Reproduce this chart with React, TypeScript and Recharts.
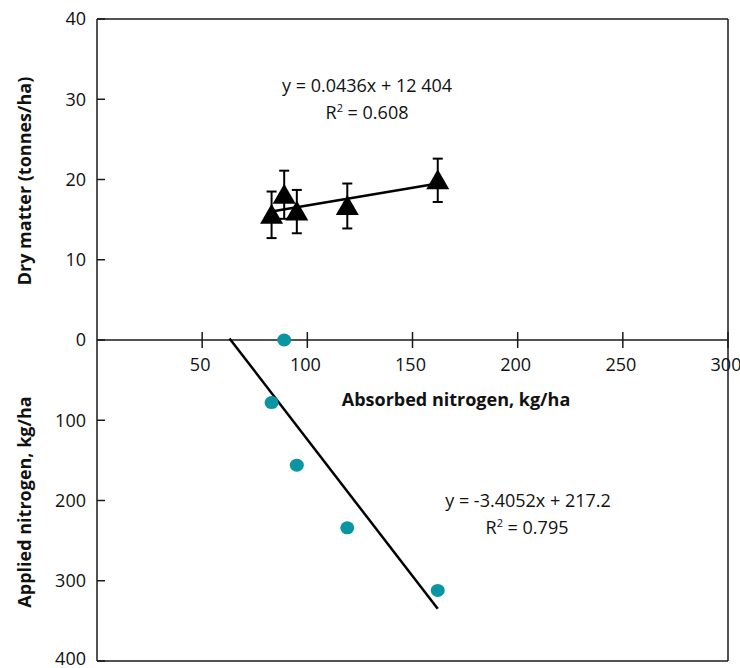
import React from "react";
import { ErrorBar, ReferenceLine, Scatter, ScatterChart, XAxis, YAxis } from "recharts";

// absorbed nitrogen (kg/ha) vs dry matter (t/ha), with error bars
const absorbed = [83, 89, 95, 119, 162];
const dryMatter = [15.6, 18.1, 16.0, 16.7, 19.9];
const dryMatterErr = [2.9, 3.0, 2.7, 2.8, 2.7];

// absorbed nitrogen vs applied nitrogen (kg/ha, drawn downwards)
const appliedAbsorbed = [89, 83, 95, 119, 162];
const applied = [0, 78, 156, 234, 312];

// trend line end points
const dryFitX = [83, 162];
const dryFitY = [16.0, 19.5];
const appliedFitX = [63, 162];
const appliedFitY = [-2, 335];

const xTicks = [50, 100, 150, 200, 250, 300];
const leftTicks = [-40, -30, -20, -10, 0, 10, 20, 30, 40];
const rightTicks = [-30, -20, -10, 10, 20, 30];

const W = 740;
const H = 668;
const TOP = 19;
const LEFT = 97;
const RIGHT = 12;
const BOTTOM_AXIS = 7;
const ZERO_Y = TOP + (H - TOP - BOTTOM_AXIS) / 2;
const FONT = "'Open Sans', 'Noto Sans', sans-serif";
const INK = "#1a1a1a";
const TEAL = "#0a95a3";

const dryData = absorbed.map((x, i) => ({ x, y: dryMatter[i], err: dryMatterErr[i] }));
const appliedData = appliedAbsorbed.map((x, i) => ({ x, y: applied[i] }));
const dryFit = dryFitX.map((x, i) => ({ x, y: dryFitY[i] }));
const appliedFit = appliedFitX.map((x, i) => ({ x, y: appliedFitY[i] }));

function Triangle(p: any) {
  const { cx, cy } = p;
  return <path d={`M${cx},${cy - 11} L${cx + 11.5},${cy + 9} L${cx - 11.5},${cy + 9} Z`} fill="#000" />;
}

function Dot(p: any) {
  return <ellipse cx={p.cx} cy={p.cy} rx={7} ry={6.5} fill={TEAL} />;
}

// x axis sits on the zero line, ticks cross it
function XTick({ x, payload }: any) {
  return (
    <g>
      <line x1={x} x2={x} y1={ZERO_Y - 8} y2={ZERO_Y + 8} stroke={INK} strokeWidth={1.5} />
      <text x={x - 2} y={ZERO_Y + 31} textAnchor="middle" fontSize={18} fontFamily={FONT} fill="#111">{payload.value}</text>
    </g>
  );
}

// inward tick mark plus label on the left side; bottom label kept inside the frame
function LeftTick({ y, payload }: any) {
  const v = payload.value;
  return (
    <g>
      <line x1={LEFT} x2={LEFT + 8} y1={y} y2={y} stroke={INK} strokeWidth={1.5} />
      <text x={LEFT - 11} y={Math.min(y, H - 9)} dy="0.36em" textAnchor="end" fontSize={18} fontFamily={FONT} fill="#111">{v < 0 ? -v * 10 : v}</text>
    </g>
  );
}

function RightTick({ y }: any) {
  return <line x1={W - RIGHT - 8} x2={W - RIGHT} y1={y} y2={y} stroke={INK} strokeWidth={1.5} />;
}

const abs: React.CSSProperties = { position: "absolute", transform: "translate(-50%, -50%)", whiteSpace: "nowrap", fontSize: 18, color: "#111" };

export default function App() {
  return (
    <div style={{ position: "absolute", left: 0, top: 0, width: W, height: H, fontFamily: FONT, background: "#fff" }}>
      <ScatterChart width={W} height={H} margin={{ top: TOP, right: 0, bottom: 0, left: 0 }}>
        <XAxis dataKey="x" type="number" domain={[0, 300]} ticks={xTicks} interval={0} axisLine={false} tickLine={false} height={BOTTOM_AXIS} tick={<XTick />} />
        <YAxis yAxisId="dry" dataKey="y" type="number" domain={[-40, 40]} ticks={leftTicks} interval={0} width={LEFT}
          tickLine={false} tick={<LeftTick />} axisLine={false} />
        <YAxis yAxisId="applied" dataKey="y" type="number" domain={[-400, 400]} reversed hide />
        <YAxis yAxisId="right" dataKey="y" orientation="right" type="number" domain={[-40, 40]} ticks={rightTicks} interval={0} width={RIGHT}
          tickLine={false} tick={<RightTick />} axisLine={false} />
        <ReferenceLine yAxisId="dry" y={40} stroke={INK} strokeWidth={1.5} />
        <ReferenceLine yAxisId="dry" y={-40} stroke={INK} strokeWidth={1.5} />
        <ReferenceLine yAxisId="dry" y={0} stroke={INK} strokeWidth={1.5} />
        <ReferenceLine yAxisId="dry" x={0} stroke={INK} strokeWidth={1.5} />
        <ReferenceLine yAxisId="dry" x={300} stroke={INK} strokeWidth={1.5} />
        <Scatter yAxisId="dry" data={dryFit} line={{ stroke: "#000", strokeWidth: 2.5 }} shape={() => <g />} isAnimationActive={false} />
        <Scatter yAxisId="dry" data={dryData} shape={<Triangle />} isAnimationActive={false}>
          <ErrorBar dataKey="err" direction="y" width={5} stroke="#000" strokeWidth={2} isAnimationActive={false} />
        </Scatter>
        <Scatter yAxisId="applied" data={appliedFit} line={{ stroke: "#000", strokeWidth: 2.5 }} shape={() => <g />} isAnimationActive={false} />
        <Scatter yAxisId="applied" data={appliedData} shape={<Dot />} isAnimationActive={false} />
      </ScatterChart>

      <div style={{ ...abs, left: 24, top: 181, fontWeight: 700, transform: "translate(-50%, -50%) rotate(-90deg)" }}>Dry matter (tonnes/ha)</div>
      <div style={{ ...abs, left: 24, top: 502, fontWeight: 700, transform: "translate(-50%, -50%) rotate(-90deg)" }}>Applied nitrogen, kg/ha</div>
      <div style={{ ...abs, left: 456, top: 399, fontWeight: 700 }}>Absorbed nitrogen, kg/ha</div>

      <div style={{ ...abs, left: 367, top: 85 }}>y = 0.0436x + 12 404</div>
      <div style={{ ...abs, left: 367, top: 112 }}>R<span style={{ fontSize: 11, verticalAlign: 7 }}>2</span> = 0.608</div>
      <div style={{ ...abs, left: 528, top: 500 }}>y = -3.4052x + 217.2</div>
      <div style={{ ...abs, left: 527, top: 527 }}>R<span style={{ fontSize: 11, verticalAlign: 7 }}>2</span> = 0.795</div>
    </div>
  );
}
